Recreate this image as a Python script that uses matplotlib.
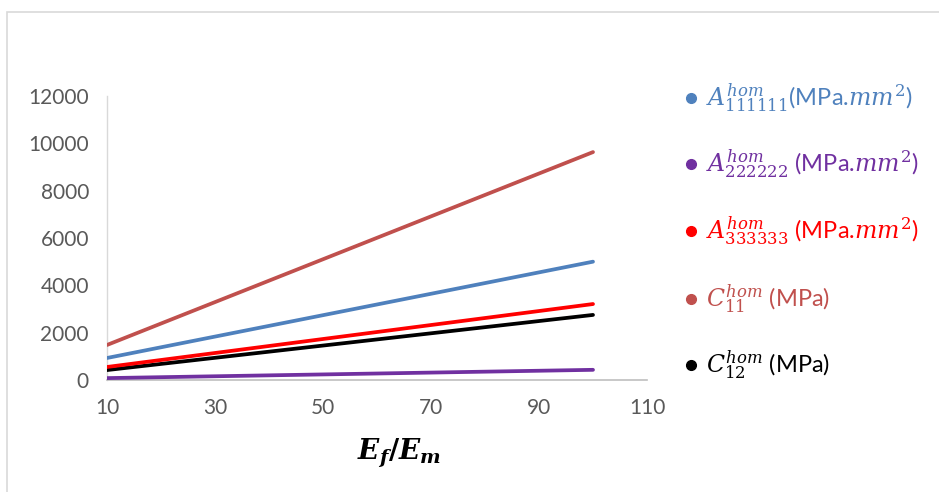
import matplotlib
matplotlib.use("Agg")
import matplotlib.pyplot as plt
from matplotlib.lines import Line2D
from matplotlib.patches import Rectangle

plt.rcParams['font.family'] = ['Lato', 'DejaVu Sans']
plt.rcParams['mathtext.fontset'] = 'dejavuserif'

ratio = [10, 100]
A111111 = [930, 5000]
A222222 = [80, 430]
A333333 = [550, 3210]
C11 = [1480, 9630]
C12 = [420, 2750]

series = [
    (A111111, '#4F81BD', r'$A_{111111}^{hom}$(MPa.$mm^2$)'),
    (A222222, '#7030A0', r'$A_{222222}^{hom}$ (MPa.$mm^2$)'),
    (A333333, '#FF0000', r'$A_{333333}^{hom}$ (MPa.$mm^2$)'),
    (C11, '#C0504D', r'$C_{11}^{hom}$ (MPa)'),
    (C12, '#000000', r'$C_{12}^{hom}$ (MPa)'),
]
draw_order = [1, 4, 2, 0, 3]

xticks = [10, 30, 50, 70, 90, 110]
yticks = [0, 2000, 4000, 6000, 8000, 10000, 12000]

W, H = 939, 492
fig = plt.figure(figsize=(W / 100, H / 100), dpi=100)
fig.patch.set_facecolor('white')
fig.patches.append(Rectangle((7 / W, -0.1), 1.2, 1 - 12 / H + 0.1,
                             transform=fig.transFigure, fill=False,
                             edgecolor='#D9D9D9', linewidth=1.2))

ax = fig.add_axes([107 / W, 1 - 380 / H, (647 - 107) / W, (380 - 96) / H])
for i in draw_order:
    vals, col, lab = series[i]
    ax.plot(ratio, vals, color=col, linewidth=2.7, solid_capstyle='round', zorder=3)

ax.set_xlim(10, 110)
ax.set_ylim(0, 12000)
ax.set_xticks(xticks)
ax.set_yticks(yticks)
ax.tick_params(axis='both', length=0, labelsize=15, colors='#595959')
ax.tick_params(axis='x', pad=13)
ax.tick_params(axis='y', pad=13)
for s in ['top', 'right']:
    ax.spines[s].set_visible(False)
ax.spines['left'].set_color('#D9D9D9')
ax.spines['bottom'].set_color('#BFBFBF')
ax.spines['left'].set_linewidth(1.0)
ax.spines['bottom'].set_linewidth(1.2)
ax.set_xlabel(r'$\mathbfit{E}_{\mathbfit{f}}\mathbf{/}\mathbfit{E}_{\mathbfit{m}}$',
              fontsize=20)
ax.xaxis.set_label_coords((399 - 107) / 540, -(460 - 380) / 284, transform=ax.transAxes)
ax.xaxis.label.set_va('baseline')

# legend, drawn manually to match the row layout
rows_y = [98, 164, 231, 299, 365]
for (vals, col, lab), y in zip(series, rows_y):
    fy = 1 - y / H
    fig.add_artist(Line2D([691 / W], [fy], transform=fig.transFigure,
                          linestyle='none', marker='o', markersize=7,
                          markerfacecolor=col, markeredgecolor=col))
    fig.text(706 / W, 1 - (y + 7) / H, lab, color=col, fontsize=17,
             ha='left', va='baseline')

fig.savefig('out.png', dpi=100, facecolor='white')
